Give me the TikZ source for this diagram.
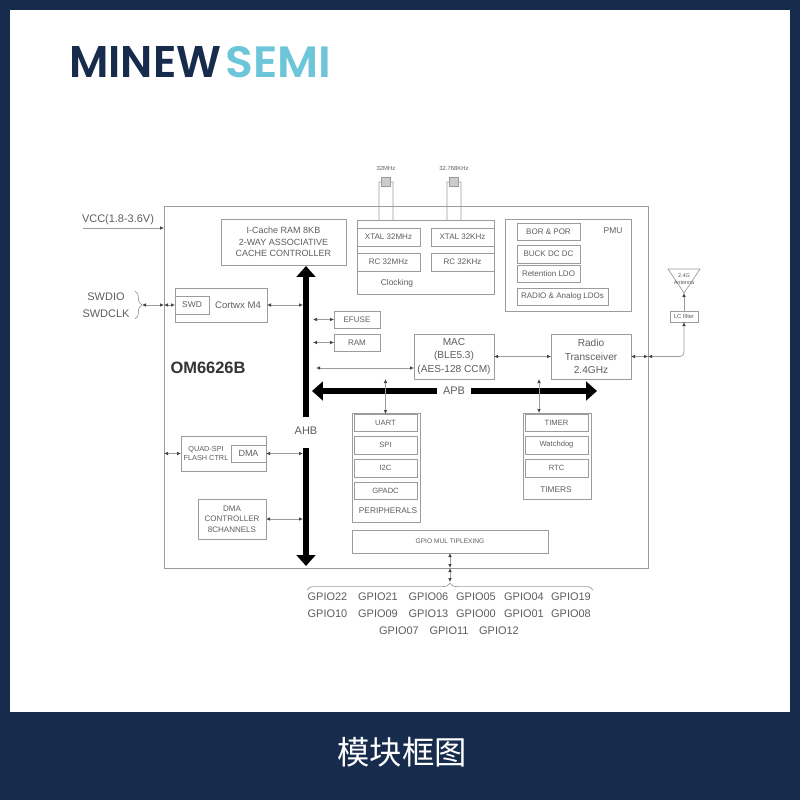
\documentclass[tikz,border=0pt]{standalone}
\usepackage{fontspec}
\setmainfont{Liberation Sans}
\newfontfamily\cjk{Noto Sans CJK SC}
\newfontfamily\logofont{Poppins SemiBold}
\usetikzlibrary{arrows.meta, decorations.pathreplacing}

\definecolor{navy}{HTML}{172B4D}
\definecolor{teal}{HTML}{6CC5D8}
\definecolor{ink}{HTML}{5E5E5E}
\definecolor{edge}{HTML}{9C9C9C}

\newcommand{\txtfont}[1]{\fontsize{#1}{#1}\selectfont\setlength{\baselineskip}{1.3em}}

\tikzset{
  txt/.style={font=\txtfont{#1}, text=ink, align=center, inner sep=0pt},
  box/.style 2 args={draw=edge, line width=0.6pt, inner sep=0pt, outer sep=0pt, align=center, text=ink,
    minimum width=#1*0.025cm, minimum height=#2*0.025cm},
  link/.style={draw=edge, line width=0.5pt, {Latex[length=1mm,width=0.9mm,black!75]}-{Latex[length=1mm,width=0.9mm,black!75]}},
  linkto/.style={draw=edge, line width=0.5pt, -{Latex[length=1mm,width=0.9mm,black!75]}},
  bus/.style={draw=black, line width=4.2pt, -{Triangle[length=0.27cm,width=0.46cm]}},
  plain/.style={draw=edge, line width=0.5pt},
}

\begin{document}
\begin{tikzpicture}[x=0.025cm, y=-0.025cm]

        % page
        \fill[navy] (0,0) rectangle (800,800);
        \fill[white] (10,10) rectangle (790,712);
        \useasboundingbox (0,0) rectangle (800,800);

        % logo and caption
        \node[inner sep=0pt, anchor=north west, text=navy] (logoa) at (69,46) {\resizebox{3.8cm}{0.775cm}{\logofont MINEW}};
        \node[inner sep=0pt, anchor=north west, text=teal] (logob) at (225,46) {\resizebox{2.65cm}{0.775cm}{\logofont SEMI}};
        \node[inner sep=0pt, text=white, font=\cjk\fontsize{23}{23}\selectfont] (caption) at (402,752) {模块框图};

        % chip outline
        \node[box={484}{362}] (chip) at (406,387) {};
        \node[txt=11.7, text=black!80, font=\bfseries\fontsize{11.7}{14}\selectfont] (partno) at (208,368) {OM6626B};

        % cache and cpu
        \node[box={125}{46}, txt=6.4] (icache) at (283.5,242) {I-Cache RAM 8KB\\2-WAY ASSOCIATIVE\\CACHE CONTROLLER};
        \node[box={92}{34}] (cortex) at (221,305) {};
        \node[box={34}{18}, txt=6] (swd) at (192,305) {SWD};
        \node[txt=6.8] (cortexlabel) at (238,305) {Cortwx M4};

        % clocking
        \node[box={137}{74}] (clocking) at (425.5,257) {};
        \node[box={63}{18}, txt=5.7] (xtalm) at (388.5,237) {XTAL 32MHz};
        \node[box={63}{18}, txt=5.7] (xtalk) at (462.5,237) {XTAL 32KHz};
        \node[box={63}{18}, txt=5.7] (rcm) at (388.5,262) {RC 32MHz};
        \node[box={63}{18}, txt=5.7] (rck) at (462.5,262) {RC 32KHz};
        \node[txt=6] (clocklabel) at (397,283) {Clocking};

        % crystals
        \node[box={9}{9}, fill=black!20] (crystalm) at (386,182) {};
        \node[box={9}{9}, fill=black!20] (crystalk) at (454,182) {};
        \node[txt=4.2] (crystalmlabel) at (386,168) {32MHz};
        \node[txt=4.2] (crystalklabel) at (454,168) {32.768KHz};
        \foreach \c in {crystalm, crystalk} {
          \draw[plain] (\c.west) -- ++(-2.5,0) -- ([xshift=-0.0625cm]\c.west |- clocking.north);
          \draw[plain] (\c.east) -- ++(2.5,0) -- ([xshift=0.0625cm]\c.east |- clocking.north);
        }

        % pmu
        \node[box={126}{92}] (pmu) at (568,265) {};
        \node[box={63}{17}, txt=5.7] (bor) at (548.5,231.5) {BOR \& POR};
        \node[box={63}{18}, txt=5.7] (buck) at (548.5,254) {BUCK DC DC};
        \node[box={63}{17}, txt=5.7] (retention) at (548.5,273.5) {Retention LDO};
        \node[box={91}{17}, txt=5.7] (ldos) at (562.5,296.5) {RADIO \& Analog LDOs};
        \node[txt=6] (pmulabel) at (613,231) {PMU};

        % small blocks by the bus
        \node[box={46}{17}, txt=5.7] (efuse) at (357,319.5) {EFUSE};
        \node[box={46}{17}, txt=5.7] (ram) at (357,342.5) {RAM};
        \node[box={80}{45}, txt=7.2] (mac) at (454,356.5) {MAC\\(BLE5.3)\\(AES-128 CCM)};
        \node[box={80}{45}, txt=7.2] (radio) at (591,356.5) {Radio\\Transceiver\\2.4GHz};

        % peripherals
        \node[box={68}{109}] (periph) at (386,467.5) {};
        \node[box={63}{17}, txt=5.4] (uart) at (385.5,422.5) {UART};
        \node[box={63}{18}, txt=5.4] (spi) at (385.5,445) {SPI};
        \node[box={63}{18}, txt=5.4] (itwoc) at (385.5,468) {I2C};
        \node[box={63}{17}, txt=5.4] (gpadc) at (385.5,490.5) {GPADC};
        \node[txt=5.9] (periphlabel) at (388,511) {PERIPHERALS};

        % timers
        \node[box={68}{86}] (timers) at (557,456) {};
        \node[box={63}{17}, txt=5.4] (timer) at (556.5,422.5) {TIMER};
        \node[box={63}{18}, txt=5.4] (watchdog) at (556.5,445) {Watchdog};
        \node[box={63}{18}, txt=5.4] (rtc) at (556.5,468) {RTC};
        \node[txt=5.9] (timerslabel) at (556,490) {TIMERS};

        % flash and dma
        \node[box={85}{35}] (quad) at (223.5,453.5) {};
        \node[txt=5.2] (quadlabel) at (206,453.5) {QUAD-SPI\\FLASH CTRL};
        \node[box={35}{17}, fill=white, txt=6.4] (dmain) at (248.5,453.5) {DMA};
        \node[box={68}{40}, txt=5.7] (dmac) at (232,519) {DMA\\CONTROLLER\\8CHANNELS};
        \node[box={196}{23}, txt=4.7] (mux) at (450,541.5) {GPIO MUL TIPLEXING};

        % antenna side
        \coordinate (anta) at (668,269);
        \coordinate (antb) at (700,269);
        \coordinate (anttip) at (684,293);
        \draw[plain] (anta) -- (antb) -- (anttip) -- cycle;
        \node[txt=3.9] (antlabel) at (684,279) {2.4G\\Antenna};
        \node[box={28}{11}, txt=4.2] (lcfilter) at (684,316.5) {LC filter};

        % buses
        \coordinate (ahbup) at (306,417);
        \coordinate (ahbtop) at (306,266);
        \coordinate (ahbdown) at (306,448);
        \coordinate (ahbend) at (306,566);
        \coordinate (apbleft) at (437,391);
        \coordinate (apblefttip) at (312,391);
        \coordinate (apbright) at (471,391);
        \coordinate (apbrighttip) at (597,391);
        \draw[bus] (ahbup) -- (ahbtop);
        \draw[bus] (ahbdown) -- (ahbend);
        \draw[bus] (apbleft) -- (apblefttip);
        \draw[bus] (apbright) -- (apbrighttip);
        \node[txt=7.8] (ahblabel) at (306,431) {AHB};
        \node[txt=7.8] (apblabel) at (454,391) {APB};

        % inputs on the left
        \coordinate (vccin) at (83,228);
        \coordinate (swdtip) at (142,305);
        \coordinate (swdtop) at (135,291);
        \coordinate (swdbot) at (135,319);
        \node[txt=7.8] (vcc) at (118,220) {VCC(1.8-3.6V)};
        \node[txt=7.8] (swdio) at (106,297) {SWDIO};
        \node[txt=7.8] (swdclk) at (106,314) {SWDCLK};
        \draw[plain, decorate, decoration={brace, amplitude=0.17cm}] (swdtop) -- (swdbot);
        \draw[linkto] (vccin) -- (vccin -| chip.west);
        \draw[link] (swdtip) -- (swdtip -| chip.west);
        \draw[link] (swdtip -| chip.west) -- (swd.west);

        % links to the bus
        \coordinate (ahbleft) at (303,0);
        \coordinate (ahbright) at (313,0);
        \coordinate (macport) at (316,368);
        \draw[link] (cortex.east) -- (cortex.east -| ahbleft);
        \draw[link] (efuse.west) -- (efuse.west -| ahbright);
        \draw[link] (ram.west) -- (ram.west -| ahbright);
        \draw[link] (macport) -- (macport -| mac.west);
        \draw[link] (quad.east) -- (quad.east -| ahbleft);
        \draw[link] (dmac.east) -- (dmac.east -| ahbleft);
        \draw[link] (quad.west) -- (quad.west -| chip.west);
        \draw[link] (mac.east) -- (radio.west);
        \draw[link] (uart.north |- mac.south) -- (uart.north);
        \coordinate (timerport) at (539,379);
        \draw[link] (timerport) -- (timerport |- timers.north);

        % rf path
        \draw[link] (radio.east) -- (radio.east -| chip.east);
        \draw[link, rounded corners=0.1cm] (radio.east -| chip.east) -- (lcfilter.south |- radio.east) -- (lcfilter.south);
        \draw[linkto] (lcfilter.north) -- (anttip);

        % gpio list
        \coordinate (gpiotip) at (450,582);
        \coordinate (gpioleft) at (307,590);
        \coordinate (gpioright) at (593,590);
        \draw[plain, decorate, decoration={brace, amplitude=0.17cm}] (gpioleft) -- (gpioright);
        \draw[link] (mux.south) -- (mux.south |- chip.south);
        \draw[link] (mux.south |- chip.south) -- (gpiotip);
        \foreach \a/\b/\x in {22/10/327.5, 21/09/378, 06/13/428.5, 05/00/476, 04/01/524, 19/08/571} {
          \node[txt=7.8] (gpio\a) at (\x,597) {GPIO\a};
          \node[txt=7.8] (gpio\b) at (\x,614) {GPIO\b};
        }
        \foreach \a/\x in {07/399, 11/449, 12/499} {
          \node[txt=7.8] (gpio\a) at (\x,631) {GPIO\a};
        }

      \end{tikzpicture}
\end{document}
